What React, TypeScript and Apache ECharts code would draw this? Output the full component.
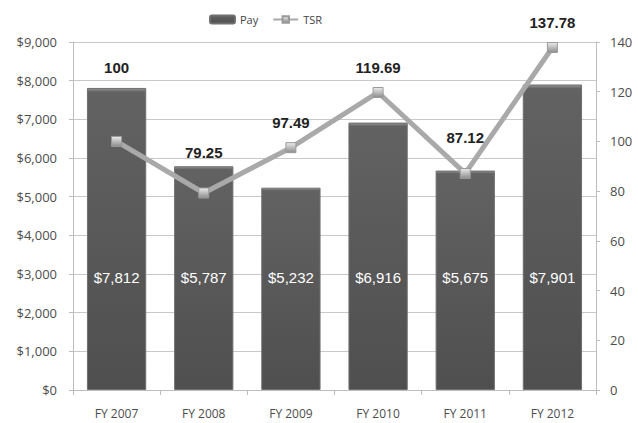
import React, { useEffect, useRef } from "react";
import * as echarts from "echarts";

const categories = ["FY 2007", "FY 2008", "FY 2009", "FY 2010", "FY 2011", "FY 2012"];
const payValues = [7812, 5787, 5232, 6916, 5675, 7901];
const tsrValues = [100, 79.25, 97.49, 119.69, 87.12, 137.78];
const payTicks = { min: 0, max: 9000, interval: 1000 };
const tsrTicks = { min: 0, max: 140, interval: 20 };

export default function App() {
  const ref = useRef<HTMLDivElement>(null);

  useEffect(() => {
    if (!ref.current) return;
    const chart = echarts.init(ref.current, undefined, { renderer: "svg" });
    // extra upward lift for some TSR labels (Excel had them moved above the bars)
    const labelLift = [49, 16, 0, 0, 11, 0];
    const fmtMoney = (v: number) => "$" + Number(v).toLocaleString("en-US");
    const axisGrey = "#bdbdbd";
    const textGrey = "#4d4d4d";
    const font = "'Open Sans', 'Liberation Sans', sans-serif";

    chart.setOption({
      animation: false,
      backgroundColor: "#ffffff",
      textStyle: { fontFamily: font },
      legend: {
        left: 204,
        top: 9,
        itemGap: 14,
        itemWidth: 25,
        itemHeight: 8,
        textStyle: { fontSize: 11, color: "#444", fontFamily: font },
        data: ["Pay", "TSR"],
      },
      grid: { left: 73, right: 42, top: 42, bottom: 33 },
      xAxis: {
        type: "category",
        data: categories,
        axisLine: { lineStyle: { color: axisGrey } },
        axisTick: { show: true, length: 5, lineStyle: { color: axisGrey } },
        axisLabel: { color: textGrey, fontSize: 12, margin: 17, fontFamily: font },
      },
      yAxis: [
        {
          type: "value",
          ...payTicks,
          axisLine: { show: true, lineStyle: { color: axisGrey } },
          axisTick: { show: true, length: 4, lineStyle: { color: axisGrey } },
          axisLabel: { color: textGrey, fontSize: 13, margin: 16, formatter: fmtMoney, fontFamily: font },
          splitLine: { lineStyle: { color: "#c8c8c8" } },
        },
        {
          type: "value",
          ...tsrTicks,
          position: "right",
          axisLine: { show: true, lineStyle: { color: axisGrey } },
          axisTick: { show: true, length: 4, lineStyle: { color: axisGrey } },
          axisLabel: { color: textGrey, fontSize: 13, margin: 14, fontFamily: font },
          splitLine: { show: false },
        },
      ],
      series: [
        {
          name: "Pay",
          type: "bar",
          yAxisIndex: 0,
          data: payValues,
          barCategoryGap: "32%",
          itemStyle: {
            color: new echarts.graphic.LinearGradient(0, 0, 0, 1, [
              { offset: 0, color: "#959595" },
              { offset: 0.012, color: "#626262" },
              { offset: 1, color: "#4f4f4f" },
            ]),
            borderColor: "#6f6f6f",
            borderWidth: 1,
          },
          label: {
            show: true,
            position: "insideBottom",
            distance: 105,
            color: "#ffffff",
            fontSize: 15,
            fontFamily: "'Liberation Sans', Arial, sans-serif",
            formatter: (p: any) => fmtMoney(p.value),
          },
        },
        {
          name: "TSR",
          type: "line",
          yAxisIndex: 1,
          data: tsrValues.map((v, i) => ({
            value: v,
            label: { offset: [0, -labelLift[i]] },
          })),
          symbol: "rect",
          symbolSize: 10,
          lineStyle: { color: "#a9a9a9", width: 5 },
          itemStyle: {
            color: new echarts.graphic.LinearGradient(0, 0, 0, 1, [
              { offset: 0, color: "#ececec" },
              { offset: 1, color: "#8c8c8c" },
            ]),
            borderColor: "#9a9a9a",
            borderWidth: 1,
          },
          label: {
            show: true,
            position: "top",
            distance: 12,
            color: "#222",
            fontSize: 15,
            fontWeight: "bold",
            fontFamily: "'Liberation Sans', Arial, sans-serif",
            formatter: (p: any) => String(p.value),
          },
          z: 3,
        },
      ],
    });
    return () => chart.dispose();
  }, []);

  return (
    <div
      ref={ref}
      style={{ position: "absolute", left: 0, top: 0, width: 638, height: 423 }}
    />
  );
}
